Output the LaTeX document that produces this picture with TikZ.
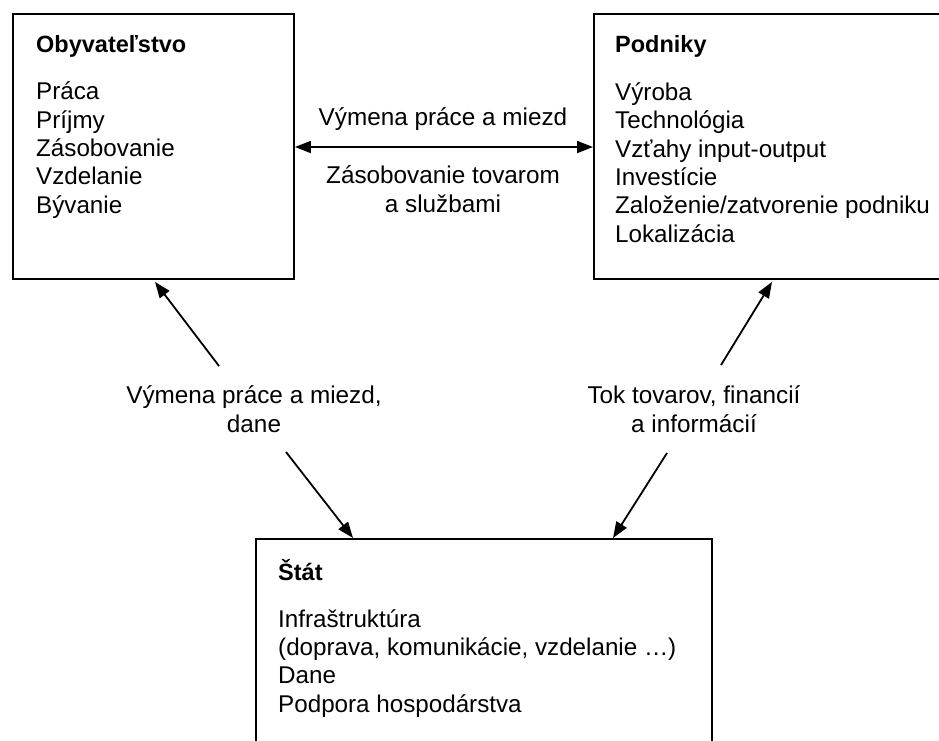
\documentclass[tikz,border=0pt]{standalone}
\usepackage{fontspec}
\setmainfont{Liberation Sans}
\usetikzlibrary{arrows.meta,calc}
\begin{document}
\begin{tikzpicture}[x=1pt,y=-1pt,
  box/.style={draw=black,line width=1.9pt,anchor=north west,inner sep=0pt},
  txt/.style={font=\fontsize{24.2}{28.3}\selectfont,inner sep=0pt,align=left,anchor=base west},
  head/.style={font=\fontsize{23.5}{28.3}\selectfont\bfseries,inner sep=0pt,anchor=base west},
  lbl/.style={font=\fontsize{24.3}{28.5}\selectfont,inner sep=0pt,align=center,anchor=base},
  conn/.style={line width=1.8pt,-{Triangle[length=16pt,width=12pt]}},
  dconn/.style={line width=1.8pt,{Triangle[length=16pt,width=12pt]}-{Triangle[length=16pt,width=12pt]}}]
\useasboundingbox (0,0) rectangle (939,740);
\clip (0,0) rectangle (939,740);
% boxes
\node[box,minimum width=281pt,minimum height=265pt] (obyv) at (12,13) {};
\node[box,minimum width=380pt,minimum height=265pt] (podn) at (593,13) {};
\node[box,minimum width=456pt,minimum height=240pt] (stat) at (255,538) {};
% box texts (base anchor = baseline of the last line)
\node[head] (obyvH) at (36,52) {Obyvateľstvo};
\node[txt] (obyvL) at (36,213) {Práca\\Príjmy\\Zásobovanie\\Vzdelanie\\Bývanie};
\node[head] (podnH) at (615,52) {Podniky};
\node[txt] (podnL) at (615,242) {Výroba\\Technológia\\Vzťahy input-output\\Investície\\Založenie/zatvorenie podniku\\Lokalizácia};
\node[head] (statH) at (278,580) {Štát};
\node[txt] (statL) at (278,712) {Infraštruktúra\\(doprava, komunikácie, vzdelanie \dots)\\Dane\\Podpora hospodárstva};
% labels
\node[lbl] (top1) at (443,125) {Výmena práce a miezd};
\node[lbl] (top2) at (443,212) {Zásobovanie tovarom\\a službami};
\node[lbl] (left) at (254,432) {Výmena práce a miezd,\\dane};
\node[lbl] (right) at (694,432) {Tok tovarov, financií\\a informácií};
% connector ends
\coordinate (l1) at (219,366);
\coordinate (l2) at (286,452);
\coordinate (r1) at (721,365);
\coordinate (r2) at (667,453);
% connectors
\draw[dconn] ($(obyv.north east)+(0,134)$) -- ($(podn.north west)+(0,134)$);
\draw[conn] (l1) -- ($(obyv.south west)+(143,2)$);
\draw[conn] (l2) -- ($(stat.north west)+(98,0)$);
\draw[conn] (r1) -- ($(podn.south west)+(179,2)$);
\draw[conn] (r2) -- ($(stat.north west)+(358,0)$);
\end{tikzpicture}
\end{document}
